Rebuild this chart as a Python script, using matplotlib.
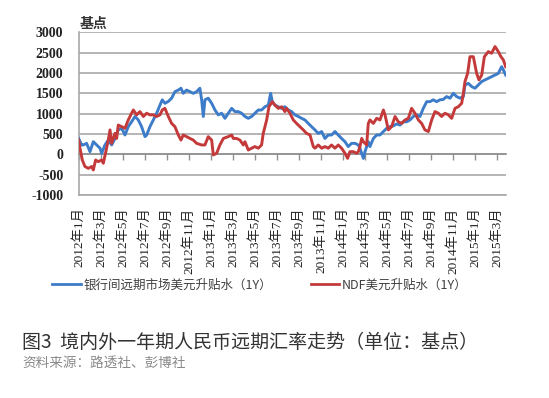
import matplotlib
matplotlib.use("Agg")
import matplotlib.pyplot as plt
from matplotlib.lines import Line2D

# ---- data (months since Jan 2012, basis points) ----
blue_m = [0, 0.27, 0.42, 0.72, 1.03, 1.33, 1.63, 1.94, 2.09, 2.39, 2.69, 3.0, 3.30, 3.60, 3.91, 4.21, 4.51,
          4.81, 5.12, 5.42, 5.72, 6.03, 6.18, 6.48, 6.78, 7.09, 7.39, 7.60, 7.84, 8.15, 8.45, 8.75, 9.06,
          9.30, 9.51, 9.81, 10.12, 10.42, 10.72, 11.02, 11.18, 11.33, 11.48, 11.78, 12.09, 12.39, 12.69,
          13.00, 13.30, 13.60, 13.91, 14.21, 14.51, 14.81, 15.12, 15.42, 15.72, 16.03, 16.33, 16.63, 16.94,
          17.24, 17.45, 17.60, 17.84, 18.15, 18.45, 18.75, 19.06, 19.36, 19.66, 19.97, 20.27, 20.57, 20.87,
          21.18, 21.48, 21.78, 22.09, 22.39, 22.69, 22.99, 23.30, 23.60, 23.90, 24.21, 24.51, 24.81,
          25.12, 25.42, 25.57, 25.73, 25.88, 26.03, 26.33, 26.48, 26.79, 27.09, 27.39, 27.70, 28.0, 28.30,
          28.60, 28.91, 29.21, 29.51, 29.82, 30.12, 30.42, 30.73, 31.03, 31.33, 31.64, 31.94, 32.24, 32.54,
          32.85, 33.15, 33.45, 33.76, 34.06, 34.36, 34.67, 34.97, 35.12, 35.42, 35.73, 36.03, 36.33, 36.64,
          36.94, 37.24, 37.54, 37.85, 38.15, 38.45, 38.61, 38.82]
blue_v = [390, 230, 230, 270, 65, 310, 230, 150, 25, 230, 350, 230, 390, 600, 640, 475, 680,
          800, 930, 845, 680, 435, 475, 680, 845, 1010, 1210, 1340, 1255, 1300, 1380, 1540, 1580,
          1625, 1500, 1580, 1540, 1500, 1540, 1625, 1340, 930, 1340, 1380, 1255, 1090, 970,
          1010, 885, 1010, 1130, 1050, 1050, 1010, 930, 885, 930, 1010, 1090, 1090, 1170,
          1210, 1500, 1295, 1210, 1170, 1130, 1170, 1090, 1050, 970, 930, 885, 845, 760,
          680, 600, 515, 560, 390, 475, 475, 560, 475, 390, 310, 190, 270,
          270, 230, 150, 25, -100, 65, 310, 190, 390, 475, 475, 560, 640, 680,
          700, 745, 720, 800, 800, 845, 930, 970, 930, 1130, 1295, 1295, 1340, 1295,
          1340, 1350, 1420, 1380, 1500, 1420, 1380, 1420, 1705, 1745, 1665, 1625, 1705, 1790,
          1830, 1870, 1910, 1950, 1990, 2155, 2075, 1950]

red_m = [0, 0.12, 0.33, 0.57, 0.88, 1.18, 1.33, 1.54, 1.78, 2.09, 2.24, 2.54, 2.69, 2.85, 3.0, 3.30, 3.45,
         3.60, 3.91, 4.21, 4.51, 4.81, 4.97, 5.27, 5.57, 5.88, 6.18, 6.48, 6.78, 7.09, 7.39, 7.60, 7.84,
         8.15, 8.45, 8.75, 9.06, 9.30, 9.51, 9.81, 10.12, 10.42, 10.72, 11.18, 11.48, 11.78, 12.09, 12.24,
         12.54, 12.84, 13.15, 13.60, 13.91, 14.06, 14.36, 14.66, 14.97, 15.12, 15.42, 15.72, 16.03, 16.33,
         16.63, 16.78, 16.94, 17.09, 17.30, 17.60, 17.84, 18.15, 18.45, 18.75, 18.90, 19.21, 19.51, 19.81,
         20.12, 20.42, 20.72, 21.03, 21.33, 21.48, 21.78, 22.09, 22.39, 22.69, 22.99, 23.30, 23.60, 23.90,
         24.21, 24.45, 24.66, 24.97, 25.27, 25.42, 25.57, 25.73, 25.88, 26.18, 26.33, 26.48, 26.79, 27.09,
         27.39, 27.70, 27.85, 28.15, 28.45, 28.76, 29.06, 29.36, 29.67, 29.97, 30.27, 30.57, 30.88, 31.18,
         31.48, 31.79, 32.09, 32.39, 32.70, 33.0, 33.30, 33.61, 33.91, 34.21, 34.51, 34.82, 34.97, 35.12,
         35.36, 35.57, 35.88, 36.18, 36.39, 36.64, 36.88, 37.24, 37.54, 37.85, 38.15, 38.39, 38.61, 38.82]
red_v = [350, 150, -140, -300, -345, -300, -385, -140, -180, -140, -220, 150, 350, 600, 270, 515, 390,
         720, 680, 640, 845, 1010, 1090, 970, 1050, 930, 1010, 970, 970, 930, 970, 1090, 1130,
         930, 760, 680, 475, 350, 475, 435, 390, 350, 270, 230, 230, 435, 350, -15,
         25, 230, 390, 435, 475, 390, 390, 350, 230, 310, 105, 150, 190, 150,
         230, 515, 680, 845, 1170, 1295, 1210, 1130, 1170, 1050, 1130, 1010, 845, 760,
         680, 600, 515, 475, 190, 150, 230, 150, 190, 150, 230, 150, 230, 150,
         25, -100, 65, 65, 25, 65, 190, 390, 310, 230, 760, 845, 760, 885,
         845, 1090, 970, 600, 680, 930, 800, 760, 845, 885, 1130, 1010, 845, 760,
         600, 560, 845, 1050, 1010, 930, 1010, 970, 885, 1130, 1170, 1255, 1500, 1790,
         1990, 2400, 2400, 1990, 1830, 1950, 2400, 2525, 2485, 2650, 2525, 2400, 2320, 2155]

tick_months = list(range(0, 39, 2))
tick_labels = [f"{2012 + k // 12}年{k % 12 + 1}月" for k in tick_months]
y_ticks = [-1000, -500, 0, 500, 1000, 1500, 2000, 2500, 3000]

series_names = ["银行间远期市场美元升贴水（1Y）", "NDF美元升贴水（1Y）"]
title_text = "图3  境内外一年期人民币远期汇率走势（单位：基点）"
source_text = "资料来源：路透社、彭博社"
unit_text = "基点"

plt.rcParams['font.family'] = ['Noto Sans CJK SC', 'DejaVu Sans']

BLUE = '#3D7CC9'
RED = '#C43A3A'
GRID = '#A8A8A8'

fig = plt.figure(figsize=(5.49, 3.98), dpi=100)
ax = fig.add_axes([0.1433, 0.5101, 0.7784, 0.4087])

ax.plot(blue_m, blue_v, color=BLUE, lw=2.1, solid_joinstyle='round', zorder=3)
ax.plot(red_m, red_v, color=RED, lw=2.1, solid_joinstyle='round', zorder=3)

ax.set_xlim(0, 38.85)
ax.set_ylim(-1000, 3000)
ax.set_yticks(y_ticks)
ax.set_yticklabels([str(v) for v in y_ticks],
                   fontdict=dict(family=['Liberation Serif', 'DejaVu Serif'], weight='bold', size=10),
                   color='#222222')
ax.tick_params(axis='y', length=0, pad=11)
ax.grid(axis='y', color=GRID, lw=1.2)
ax.set_axisbelow(True)

for s in ['top', 'right']:
    ax.spines[s].set_visible(False)
ax.spines['left'].set_color(GRID)
ax.spines['left'].set_linewidth(1.2)
ax.spines['bottom'].set_position(('data', 0))
ax.spines['bottom'].set_color('#909090')
ax.spines['bottom'].set_linewidth(1.2)
ax.set_xticks(tick_months)
ax.tick_params(axis='x', direction='out', length=4, width=1, color='#909090', labelbottom=False)

sec = ax.secondary_xaxis('bottom')
sec.set_xticks(tick_months)
sec.set_xticklabels(tick_labels, rotation=90,
                    fontdict=dict(family=['Liberation Serif', 'Noto Sans CJK SC'], size=9.5),
                    color='#222222')
sec.tick_params(length=0, pad=9)
sec.spines['bottom'].set_color(GRID)
sec.spines['bottom'].set_linewidth(1.2)

fig.text(80 / 549, 1 - 24 / 398, unit_text, fontsize=10, fontweight='bold', color='#333333',
         ha='left', va='center')

handles = [Line2D([], [], color=BLUE, lw=2), Line2D([], [], color=RED, lw=2)]
fig.legend(handles, series_names, loc='center left', bbox_to_anchor=(52 / 549, 1 - 285 / 398),
           ncol=2, frameon=False, fontsize=9, handlelength=2.3, handletextpad=0.2,
           columnspacing=3.1, borderpad=0, borderaxespad=0, labelcolor='#404040')

fig.text(22 / 549, 1 - 342 / 398, title_text, fontsize=13.7, color='#333333', ha='left', va='center')
fig.text(22 / 549, 1 - 363 / 398, source_text, fontsize=9.8, color='#8A8A8A', ha='left', va='center')

fig.savefig('out.png', dpi=100)
